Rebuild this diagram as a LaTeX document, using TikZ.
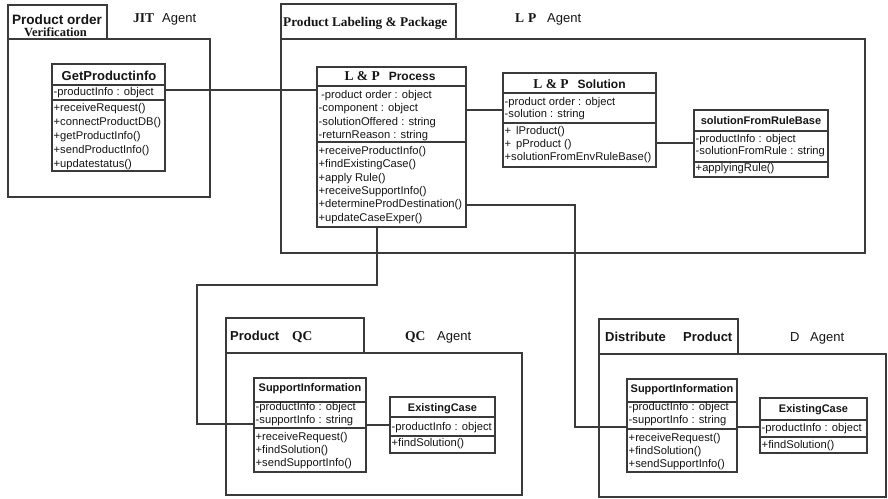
\documentclass[tikz,border=0pt]{standalone}
\usepackage{fontspec}
\setmainfont{Liberation Sans}
\newfontfamily\tnr{Liberation Serif}
\usetikzlibrary{calc}
\definecolor{ln}{HTML}{3A3A3A}
\definecolor{tx}{HTML}{151515}
\newcommand\myst{\vrule height 9pt width 0pt\relax}
\begin{document}
\begin{tikzpicture}[x=1pt,y=-1pt,
  pkg/.style={draw=ln, line width=1.8pt, rectangle, inner sep=0pt, outer sep=0pt, anchor=north west},
  cls/.style={draw=ln, line width=1.6pt, fill=white, rectangle, inner sep=0pt, outer sep=0pt, anchor=north west},
  divl/.style={draw=ln, line width=1.4pt},
  con/.style={draw=ln, line width=1.6pt},
  mem/.style={anchor=north west, inner sep=0pt, align=left, text=tx, font=\fontsize{11.2}{13.5}\selectfont},
  ttl/.style={anchor=base, inner sep=0pt, text=tx, font=\bfseries\fontsize{11}{13}\selectfont},
  hdr/.style={anchor=base west, inner sep=0pt, text=tx, font=\fontsize{13}{15}\selectfont},
  hdrs/.style={anchor=base west, inner sep=0pt, text=tx, font=\tnr\bfseries\fontsize{13.5}{15}\selectfont},
  hdrb/.style={anchor=base west, inner sep=0pt, text=tx, font=\bfseries\fontsize{13}{15}\selectfont},
]
\useasboundingbox[fill=white] (0,0) rectangle (888,498);

% ---------- packages ----------
\node[pkg, minimum width=99, minimum height=34] (jitT) at (8,5) {};
\node[pkg, minimum width=202, minimum height=158] (jitB) at (8,39) {};
\node[pkg, minimum width=175, minimum height=35] (lpT) at (281,4) {};
\node[pkg, minimum width=584, minimum height=214] (lpB) at (281,39) {};
\node[pkg, minimum width=138, minimum height=35] (qcT) at (226,318) {};
\node[pkg, minimum width=296, minimum height=142] (qcB) at (226,353) {};
\node[pkg, minimum width=139, minimum height=35] (dT) at (599,319) {};
\node[pkg, minimum width=287, minimum height=143] (dB) at (599,354) {};

% ---------- package headers ----------
\node[hdrb, anchor=base, font=\bfseries\fontsize{13.6}{15}\selectfont] (jitN1) at (57,24) {Product order};
\node[hdrs, anchor=base, font=\tnr\bfseries\fontsize{12.5}{14}\selectfont] (jitN2) at (55.5,36) {Verification};
\node[hdrs] (jitA1) at (133,22) {JIT};
\node[hdr] (jitA2) at (162,22) {Agent};

\node[hdrs, font=\tnr\bfseries\fontsize{13.3}{15}\selectfont] (lpN) at (283,26) {Product Labeling \& Package};
\node[hdrs] (lpA1) at (515,22) {L\hspace{4pt}P};
\node[hdr] (lpA2) at (547,22) {Agent};

\node[hdrb] (qcN1) at (230,340) {Product};
\node[hdrs] (qcN2) at (292,340) {QC};
\node[hdrs] (qcA1) at (405,340) {QC};
\node[hdr] (qcA2) at (437,340) {Agent};

\node[hdrb] (dN1) at (605,341) {Distribute};
\node[hdrb] (dN2) at (683,341) {Product};
\node[hdr] (dA1) at (790,341) {D};
\node[hdr] (dA2) at (810,341) {Agent};

% ---------- classes ----------
% GetProductinfo
\node[cls, minimum width=113, minimum height=107] (gpi) at (52,64) {};
\draw[divl] (gpi.west |- 0,85) -- (gpi.east |- 0,85);
\draw[divl] (gpi.west |- 0,100) -- (gpi.east |- 0,100);
\node[ttl, font=\bfseries\fontsize{13}{15}\selectfont] (gpiT) at (109,80) {GetProductinfo};
\node[mem] (gpiA) at (53.5,86) {\myst-productInfo : object};
\node[mem, font=\fontsize{11.2}{14}\selectfont] (gpiM) at (53.5,102.5) {\myst+receiveRequest()\\+connectProductDB()\\+getProductInfo()\\+sendProductInfo()\\+updatestatus()};

% L & P Process
\node[cls, minimum width=149, minimum height=160] (lpp) at (317,67) {};
\draw[divl] (lpp.west |- 0,86) -- (lpp.east |- 0,86);
\draw[divl] (lpp.west |- 0,142) -- (lpp.east |- 0,142);
\node[ttl] (lppT) at (390,80) {{\tnr\bfseries\fontsize{13.5}{15}\selectfont L \& P}\hspace{9pt}{\fontsize{12}{14}\selectfont Process}};
\node[mem, font=\fontsize{11.2}{13.4}\selectfont] (lppA) at (318.5,89) {\myst\hspace{2.5pt}-product order : object\\-component : object\\-solutionOffered : string\\-returnReason : string};
\node[mem, font=\fontsize{11.2}{13.4}\selectfont] (lppM) at (318.5,145) {\myst+receiveProductInfo()\\+findExistingCase()\\+apply Rule()\\+receiveSupportInfo()\\+determineProdDestination()\\+updateCaseExper()};

% L & P Solution
\node[cls, minimum width=153, minimum height=94] (lps) at (503,73) {};
\draw[divl] (lps.west |- 0,93) -- (lps.east |- 0,93);
\draw[divl] (lps.west |- 0,123) -- (lps.east |- 0,123);
\node[ttl] (lpsT) at (579.5,88) {{\tnr\bfseries\fontsize{13.5}{15}\selectfont L \& P}\hspace{9pt}{\fontsize{12}{14}\selectfont Solution}};
\node[mem, font=\fontsize{11.2}{12.5}\selectfont] (lpsA) at (504.5,96) {\myst-product order : object\\-solution : string};
\node[mem, font=\fontsize{11.2}{13}\selectfont] (lpsM) at (504.5,125) {\myst+\hspace{5pt}lProduct()\\+\hspace{5pt}pProduct ()\\+solutionFromEnvRuleBase()};

% solutionFromRuleBase
\node[cls, minimum width=134, minimum height=67] (rb) at (694,110) {};
\draw[divl] (rb.west |- 0,131) -- (rb.east |- 0,131);
\draw[divl] (rb.west |- 0,162) -- (rb.east |- 0,162);
\node[ttl] (rbT) at (761,124) {solutionFromRuleBase};
\node[mem, font=\fontsize{11.2}{12.5}\selectfont] (rbA) at (695.5,133) {\myst-productInfo : object\\-solutionFromRule : string};
\node[mem] (rbM) at (695.5,162) {\myst+applyingRule()};

% QC SupportInformation
\node[cls, minimum width=112, minimum height=94] (qsi) at (254,378) {};
\draw[divl] (qsi.west |- 0,402) -- (qsi.east |- 0,402);
\draw[divl] (qsi.west |- 0,428) -- (qsi.east |- 0,428);
\node[ttl] (qsiT) at (310,391) {SupportInformation};
\node[mem, font=\fontsize{11.2}{13}\selectfont] (qsiA) at (255.5,401) {\myst-productInfo : object\\-supportInfo : string};
\node[mem, font=\fontsize{11.2}{13}\selectfont] (qsiM) at (255.5,431) {\myst+receiveRequest()\\+findSolution()\\+sendSupportInfo()};

% QC ExistingCase
\node[cls, minimum width=105, minimum height=56] (qec) at (390,397) {};
\draw[divl] (qec.west |- 0,417) -- (qec.east |- 0,417);
\draw[divl] (qec.west |- 0,436) -- (qec.east |- 0,436);
\node[ttl] (qecT) at (442.5,411) {ExistingCase};
\node[mem] (qecA) at (391.5,421) {\myst-productInfo : object};
\node[mem] (qecM) at (391.5,437) {\myst+findSolution()};

% D SupportInformation
\node[cls, minimum width=110, minimum height=93] (dsi) at (627,379) {};
\draw[divl] (dsi.west |- 0,402) -- (dsi.east |- 0,402);
\draw[divl] (dsi.west |- 0,429) -- (dsi.east |- 0,429);
\node[ttl] (dsiT) at (682,392) {SupportInformation};
\node[mem, font=\fontsize{11.2}{13}\selectfont] (dsiA) at (628.5,401) {\myst-productInfo : object\\-supportInfo : string};
\node[mem, font=\fontsize{11.2}{13}\selectfont] (dsiM) at (628.5,432) {\myst+receiveRequest()\\+findSolution()\\+sendSupportInfo()};

% D ExistingCase
\node[cls, minimum width=107, minimum height=55] (dec) at (760,398) {};
\draw[divl] (dec.west |- 0,420) -- (dec.east |- 0,420);
\draw[divl] (dec.west |- 0,437) -- (dec.east |- 0,437);
\node[ttl] (decT) at (813.5,412) {ExistingCase};
\node[mem] (decA) at (761.5,422) {\myst-productInfo : object};
\node[mem] (decM) at (761.5,439) {\myst+findSolution()};

% ---------- connectors ----------
\draw[con] ($(gpi.north east)+(0,26)$) -- ($(lpp.north west)+(0,23)$);
\draw[con] ($(lpp.north east)+(0,43)$) -- ($(lps.north west)+(0,37)$);
\draw[con] ($(lps.north east)+(0,70)$) -- ($(rb.north west)+(0,33)$);
\draw[con] ($(lpp.north east)+(0,138)$) -| ($(dsi.north west)+(-52,48)$) -- ($(dsi.north west)+(0,48)$);
\draw[con] ($(lpp.south west)+(60,0)$) -- ++(0,58) -| ($(qsi.north west)+(-57,46)$) -- ($(qsi.north west)+(0,46)$);
\draw[con] ($(qsi.north east)+(0,47)$) -- ($(qec.north west)+(0,28)$);
\draw[con] ($(dsi.north east)+(0,48)$) -- ($(dec.north west)+(0,29)$);
\end{tikzpicture}
\end{document}
